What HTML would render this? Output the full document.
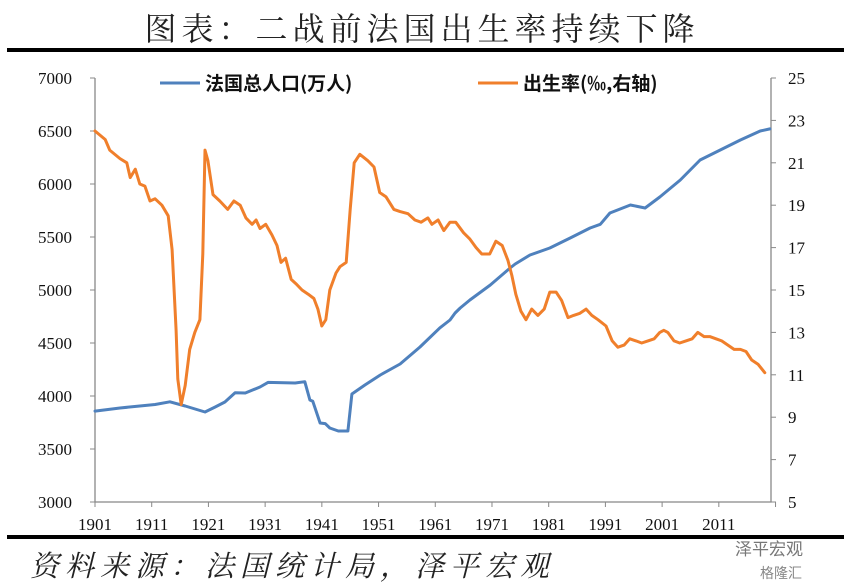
<!DOCTYPE html>
<html><head><meta charset="utf-8"><style>
body{margin:0;background:#fff;width:844px;height:585px;overflow:hidden;font-family:"Liberation Serif","Noto Serif CJK SC",serif;}
svg{display:block}
</style></head><body>
<svg id="c" width="844" height="585">
<text x="422" y="40" text-anchor="middle" font-size="32" font-family="'Noto Serif CJK SC','Noto Sans CJK SC',serif" fill="#222" letter-spacing="5">图表：二战前法国出生率持续下降</text>
<rect x="7" y="48" width="837" height="4" fill="#000"/>
<rect x="7" y="535" width="837" height="4" fill="#000"/>
<text x="30" y="576" font-size="29" font-style="italic" letter-spacing="6" font-family="'Noto Serif CJK SC','Noto Sans CJK SC',serif" fill="#222">资料来源：法国统计局，泽平宏观</text>
<text x="735" y="555" font-size="17" fill="#777" font-family="'Noto Sans CJK SC',sans-serif">泽平宏观</text>
<text x="760" y="578" font-size="14" fill="#888" font-family="'Noto Sans CJK SC',sans-serif">格隆汇</text>
<g id="plot"></g>
</svg>
<script>
const xTicks=[1901,1911,1921,1931,1941,1951,1961,1971,1981,1991,2001,2011];
const leftTicks=[3000,3500,4000,4500,5000,5500,6000,6500,7000];
const rightTicks=[5,7,9,11,13,15,17,19,21,23,25];
const popYears=[1901,1905.4,1908.9,1911.6,1914.2,1916.9,1920.4,1922.2,1923.9,1925.7,1927.5,1930.1,1931.5,1936.3,1938,1938.9,1939.4,1940.7,1941.6,1942.4,1943.9,1944.6,1945.6,1946.3,1948.6,1951.3,1954.8,1958.3,1961.8,1963.6,1964.5,1965.4,1967.1,1970.7,1974.2,1975.1,1977.7,1981.2,1984.8,1988.3,1990.1,1991.8,1995.4,1998,2000.6,2004.2,2007.7,2011.2,2014.8,2018.3,2020];
const popValues=[3858,3887,3906,3920,3945,3906,3849,3896,3943,4030,4028,4085,4128,4123,4135,3962,3950,3745,3740,3698,3670,3670,3670,4019,4104,4198,4302,4462,4642,4717,4783,4830,4906,5047,5208,5245,5330,5396,5491,5585,5620,5726,5802,5774,5877,6038,6226,6320,6415,6500,6520];
const brYears=[1901,1902.8,1903.6,1905.4,1906.6,1907.2,1908.1,1908.9,1909.8,1910.7,1911.6,1912.8,1913.9,1914.6,1915.3,1915.6,1916.2,1916.9,1917.7,1918.6,1919.5,1920,1920.4,1920.9,1921.8,1923,1924.4,1925.5,1926.6,1927.6,1928.7,1929.4,1930.1,1931.1,1932.2,1933.1,1933.8,1934.6,1935.6,1936.4,1937.5,1938.6,1939.6,1940.3,1941,1941.7,1942.4,1943.5,1944.2,1945.3,1946,1946.7,1947.7,1949.1,1950.2,1951.2,1952.3,1953.7,1954.8,1956.2,1957.4,1958.5,1959.7,1960.4,1961.5,1962.5,1963.6,1964.6,1966,1967.1,1968.2,1969.2,1970.6,1971.7,1972.8,1973.8,1974.5,1975.2,1976.1,1977,1978,1979.1,1980.2,1981.2,1982.3,1983.3,1984.4,1985.4,1986.5,1987.6,1988.6,1989.7,1991.1,1992.2,1993.2,1994.3,1995.3,1996.4,1997.4,1998.5,1999.6,2000.6,2001.3,2002,2003.1,2004.1,2005.2,2006.3,2007.3,2008.4,2009.4,2010.5,2011.5,2012.6,2013.7,2014.8,2015.8,2016.8,2017.9,2019.1];
const brValues=[22.5,22.1,21.6,21.2,21.0,20.3,20.7,20.0,19.9,19.2,19.3,19.0,18.5,16.9,13.1,10.8,9.6,10.5,12.2,13.0,13.6,16.7,21.6,21.1,19.5,19.2,18.8,19.2,19.0,18.4,18.1,18.3,17.9,18.1,17.6,17.1,16.3,16.5,15.5,15.3,15.0,14.8,14.6,14.1,13.3,13.6,15.0,15.8,16.1,16.3,18.8,21.0,21.4,21.1,20.8,19.6,19.4,18.8,18.7,18.6,18.3,18.2,18.4,18.1,18.3,17.8,18.2,18.2,17.7,17.4,17.0,16.7,16.7,17.3,17.1,16.4,15.7,14.8,14.0,13.6,14.1,13.8,14.1,14.9,14.9,14.5,13.7,13.8,13.9,14.1,13.8,13.6,13.3,12.6,12.3,12.4,12.7,12.6,12.5,12.6,12.7,13.0,13.1,13.0,12.6,12.5,12.6,12.7,13.0,12.8,12.8,12.7,12.6,12.4,12.2,12.2,12.1,11.7,11.5,11.1];

const X0=95,X1=771,Y0=502,Y1=78;
const xs=y=>X0+(y-1901)*(X1-X0)/(2020.2-1901);
const yl=v=>Y0-(v-3000)*(Y0-Y1)/4000;
const yr=v=>Y0-(v-5)*(Y0-Y1)/20;
const NS='http://www.w3.org/2000/svg';
const g=document.getElementById('plot');
function mk(t,a){const e=document.createElementNS(NS,t);for(const k in a)e.setAttribute(k,a[k]);g.appendChild(e);return e;}
let e;
e=mk('path',{d:`M${X0},${Y1}V${Y0}H${X1}V${Y1}`,stroke:'#888',fill:'none','stroke-width':1.3});


leftTicks.forEach(v=>{
 e=mk('line',{x1:X0-5,x2:X0,y1:yl(v),y2:yl(v),stroke:'#888'});
 
 
 e=mk('text',{x:X0-23,y:yl(v)+6,'text-anchor':'end','font-size':17,fill:'#111'});e.textContent=v;
 
 
});
rightTicks.forEach(v=>{
 e=mk('line',{x1:X1,x2:X1+5,y1:yr(v),y2:yr(v),stroke:'#888'});
 
 
 e=mk('text',{x:X1+17,y:yr(v)+6,'font-size':17,fill:'#111'});e.textContent=v;
 
 
});
xTicks.concat([2021]).forEach((v,i)=>{
 e=mk('line',{x1:xs(v),x2:xs(v),y1:Y0,y2:Y0+5,stroke:'#888'});
 
 
});
xTicks.forEach(v=>{
 e=mk('text',{x:xs(v),y:Y0+28,'text-anchor':'middle','font-size':17,fill:'#111'});e.textContent=v;
 
 
});
function line(xsA,vs,f,col,name){
 const d=xsA.map((y,i)=>(i?'L':'M')+xs(y).toFixed(1)+','+f(vs[i]).toFixed(1)).join('');
 e=mk('path',{d,stroke:col,fill:'none','stroke-width':3,'stroke-linejoin':'round','stroke-linecap':'round'});
 
 
}
line(popYears,popValues,yl,'#4f81bd','population-line');
line(brYears,brValues,yr,'#f07f2b','birth-rate-line');
e=mk('line',{x1:160,x2:200,y1:83,y2:83,stroke:'#4f81bd','stroke-width':3});


e=mk('text',{x:205,y:90,'font-size':19,'font-weight':'bold',fill:'#111','font-family':"'Noto Sans CJK SC',sans-serif"});e.textContent='法国总人口(万人)';


e=mk('line',{x1:478,x2:518,y1:83,y2:83,stroke:'#f07f2b','stroke-width':3});


e=mk('text',{x:523,y:90,'font-size':19,'font-weight':'bold',fill:'#111','font-family':"'Noto Sans CJK SC',sans-serif"});e.textContent='出生率(‰,右轴)';


</script>
</body></html>
